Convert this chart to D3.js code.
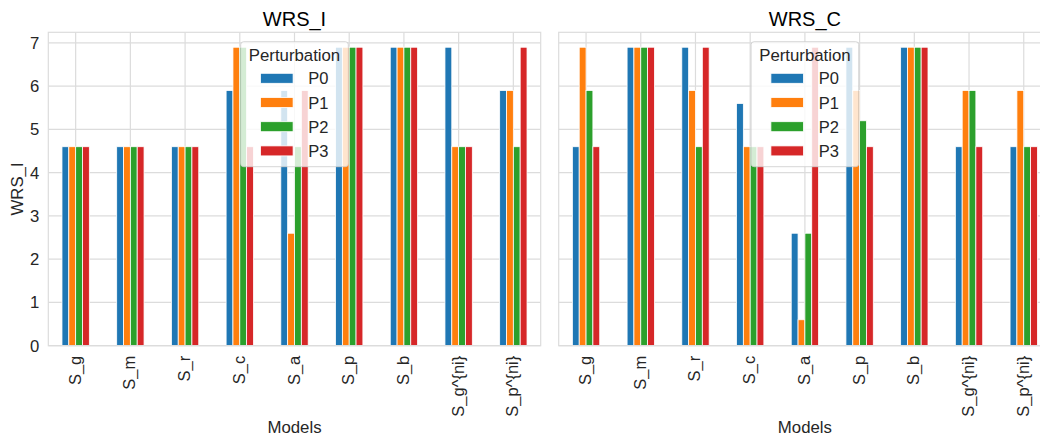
<!DOCTYPE html>
<html>
<head>
<meta charset="utf-8">
<script src="https://cdn.jsdelivr.net/npm/d3@7"></script>
<style>
  html, body { margin: 0; padding: 0; background: #fff; }
  svg { display: block; font-family: "Liberation Sans", Arial, sans-serif; }
</style>
</head>
<body>
<svg id="chart" width="1040" height="440"></svg>
<script>
const categories = ["S_g", "S_m", "S_r", "S_c", "S_a", "S_p", "S_b", "S_g^{ni}", "S_p^{ni}"];
const seriesNames = ["P0", "P1", "P2", "P3"];
const seriesColors = ["#1f77b4", "#ff7f0e", "#2ca02c", "#d62728"];
const yTicks = [0, 1, 2, 3, 4, 5, 6, 7];

const wrsI_P0 = [4.6, 4.6, 4.6, 5.9, 5.9, 6.9, 6.9, 6.9, 5.9];
const wrsI_P1 = [4.6, 4.6, 4.6, 6.9, 2.6, 6.9, 6.9, 4.6, 5.9];
const wrsI_P2 = [4.6, 4.6, 4.6, 6.9, 4.6, 6.9, 6.9, 4.6, 4.6];
const wrsI_P3 = [4.6, 4.6, 4.6, 4.6, 5.9, 6.9, 6.9, 4.6, 6.9];

const wrsC_P0 = [4.6, 6.9, 6.9, 5.6, 2.6, 6.9, 6.9, 4.6, 4.6];
const wrsC_P1 = [6.9, 6.9, 5.9, 4.6, 0.6, 5.9, 6.9, 5.9, 5.9];
const wrsC_P2 = [5.9, 6.9, 4.6, 4.6, 2.6, 5.2, 6.9, 5.9, 4.6];
const wrsC_P3 = [4.6, 6.9, 6.9, 4.6, 6.9, 4.6, 6.9, 4.6, 4.6];

const panels = [
  { title: "WRS_I", series: [wrsI_P0, wrsI_P1, wrsI_P2, wrsI_P3], left: 48.3, showY: true },
  { title: "WRS_C", series: [wrsC_P0, wrsC_P1, wrsC_P2, wrsC_P3], left: 558.7, showY: false }
];

const svg = d3.select("#chart");
const plotTop = 32.3, plotBottom = 345.7, panelW = 492.4;
const gridColor = "#dcdcdc";
const textColor = "#262626";

const allMax = d3.max(panels.flatMap(p => p.series.flat()));
const y = d3.scaleLinear().domain([0, allMax * 1.05]).range([plotBottom, plotTop]);

panels.forEach(p => {
  const g = svg.append("g");
  const x = d3.scaleLinear().domain([-0.5, categories.length - 0.5]).range([p.left, p.left + panelW]);
  const right = p.left + panelW;

  g.append("g").selectAll("line").data(yTicks).join("line")
    .attr("x1", p.left).attr("x2", right)
    .attr("y1", d => y(d)).attr("y2", d => y(d))
    .attr("stroke", gridColor).attr("stroke-width", 1.2);
  g.append("g").selectAll("line").data(categories).join("line")
    .attr("x1", (d, i) => x(i)).attr("x2", (d, i) => x(i))
    .attr("y1", plotTop).attr("y2", plotBottom)
    .attr("stroke", gridColor).attr("stroke-width", 1.2);

  const nS = seriesNames.length;
  const bw = 0.5 / nS;
  p.series.forEach((vals, si) => {
    g.append("g").selectAll("rect").data(vals).join("rect")
      .attr("x", (d, i) => x(i - 0.25 + si * bw))
      .attr("width", x(bw) - x(0))
      .attr("y", d => y(d))
      .attr("height", d => y(0) - y(d))
      .attr("fill", seriesColors[si])
      .attr("stroke", "#fff").attr("stroke-width", 0.8);
  });

  g.append("rect").attr("x", p.left).attr("y", plotTop).attr("width", panelW).attr("height", plotBottom - plotTop)
    .attr("fill", "none").attr("stroke", gridColor).attr("stroke-width", 1.2);

  if (p.showY) {
    const ya = d3.axisLeft(y).tickValues(yTicks).tickSize(0).tickPadding(9).tickFormat(d3.format("d"));
    const ag = g.append("g").attr("transform", `translate(${p.left},0)`).call(ya);
    ag.select(".domain").remove();
    ag.selectAll("text").attr("font-size", 16.7).attr("fill", textColor)
      .attr("font-family", "Liberation Sans, Arial, sans-serif");
    g.append("text")
      .attr("transform", `translate(23,${(plotTop + plotBottom) / 2}) rotate(-90)`)
      .attr("text-anchor", "middle").attr("font-size", 16.8).attr("fill", textColor)
      .text("WRS_I");
  }

  g.append("g").selectAll("text").data(categories).join("text")
    .attr("transform", (d, i) => `translate(${x(i) + 5},${plotBottom + 10}) rotate(-90)`)
    .attr("text-anchor", "end")
    .attr("font-size", 16.5).attr("fill", textColor)
    .text(d => d);

  g.append("text").attr("x", (p.left + right) / 2).attr("y", 433)
    .attr("text-anchor", "middle").attr("font-size", 16.8).attr("fill", textColor)
    .text("Models");

  g.append("text").attr("x", (p.left + right) / 2).attr("y", 26)
    .attr("text-anchor", "middle").attr("font-size", 20).attr("fill", "#000")
    .text(p.title);

  const cx = (p.left + right) / 2;
  const lw = 107.6, lh = 125;
  const lg = g.append("g");
  lg.append("rect").attr("x", cx - lw / 2).attr("y", 41.7).attr("width", lw).attr("height", lh)
    .attr("rx", 3).attr("fill", "#fff").attr("fill-opacity", 0.8)
    .attr("stroke", "#cccccc").attr("stroke-opacity", 0.8).attr("stroke-width", 1);
  lg.append("text").attr("x", cx).attr("y", 61).attr("text-anchor", "middle")
    .attr("font-size", 16.8).attr("fill", textColor).text("Perturbation");
  seriesNames.forEach((s, si) => {
    const cy = 78.3 + si * 24.2;
    lg.append("rect").attr("x", cx - 34).attr("y", cy - 5).attr("width", 32.6).attr("height", 10)
      .attr("fill", seriesColors[si]).attr("stroke", "#fff").attr("stroke-width", 0.8);
    lg.append("text").attr("x", cx + 13.8).attr("y", cy + 6).attr("font-size", 16.5)
      .attr("fill", textColor).text(s);
  });
});
</script>
</body>
</html>
